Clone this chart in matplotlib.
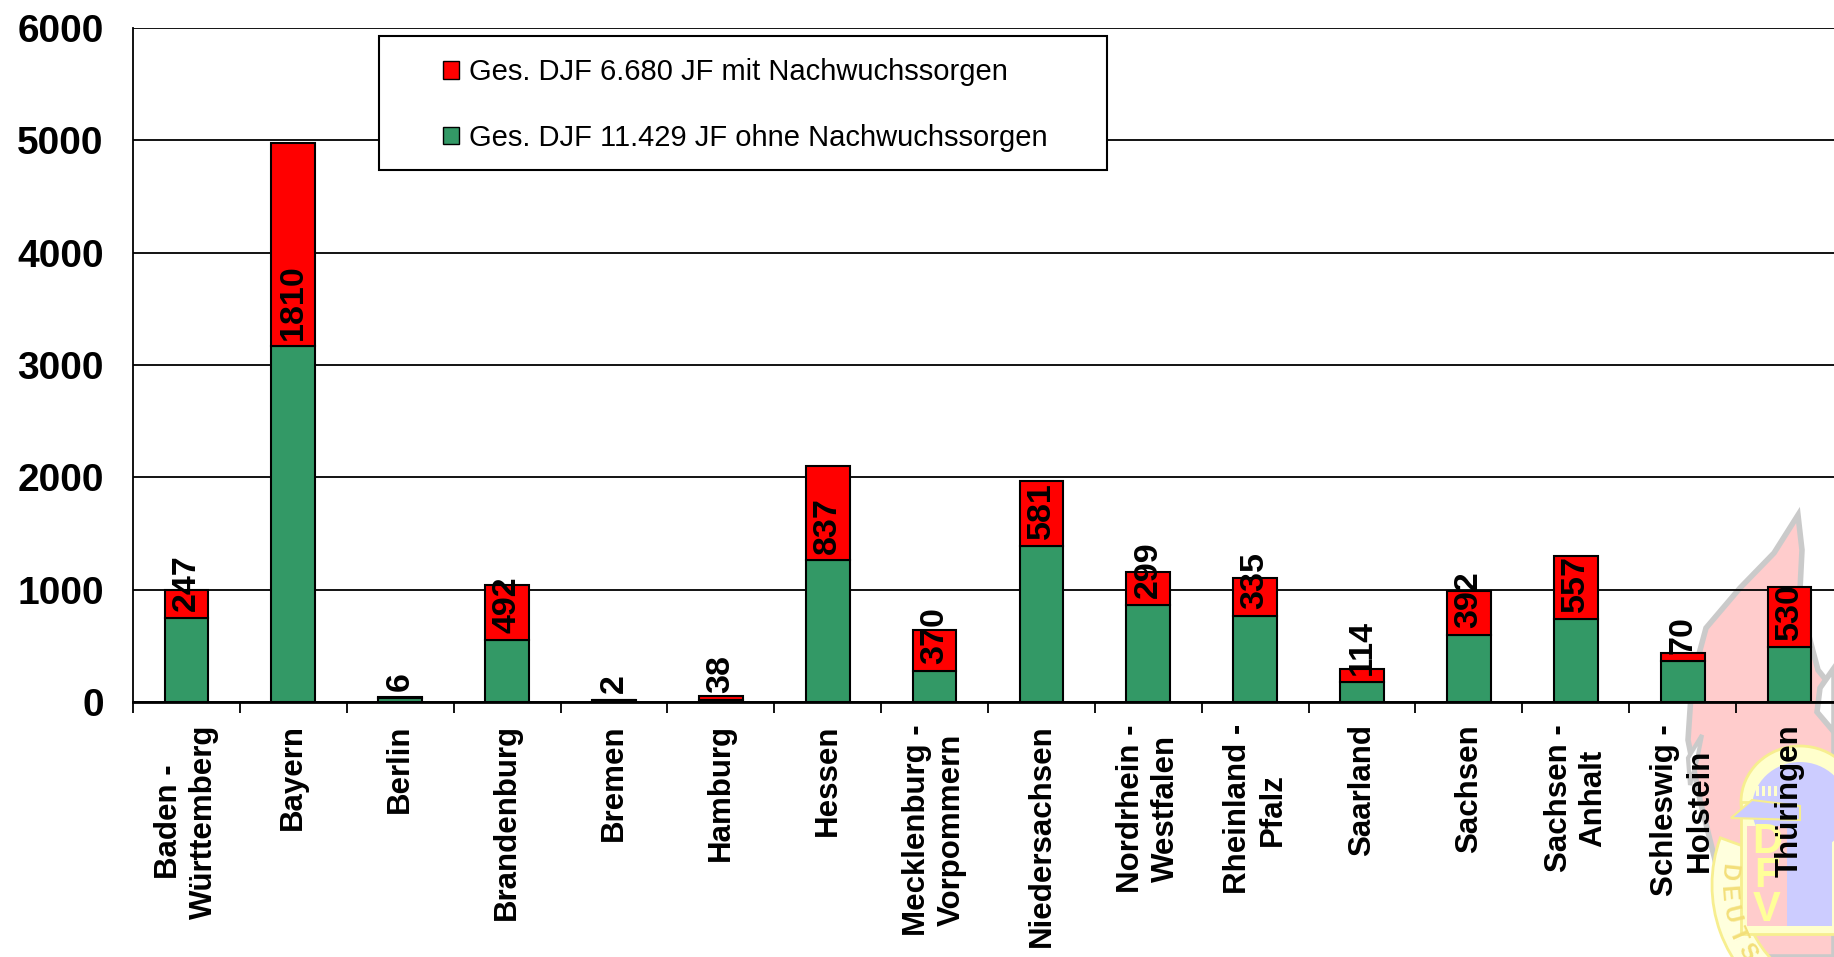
import matplotlib
matplotlib.use("Agg")
import matplotlib.pyplot as plt
import matplotlib.transforms as mtransforms
from matplotlib.patches import Patch, Rectangle, Polygon, Ellipse, Wedge
import numpy as np

plt.rcParams['font.family'] = ['Liberation Sans', 'DejaVu Sans']

# Jugendfeuerwehren je Landesverband
laender = ["Baden -\nWürttemberg", "Bayern", "Berlin", "Brandenburg", "Bremen",
           "Hamburg", "Hessen", "Mecklenburg -\nVorpommern", "Niedersachsen",
           "Nordrhein -\nWestfalen", "Rheinland -\nPfalz", "Saarland", "Sachsen",
           "Sachsen -\nAnhalt", "Schleswig -\nHolstein", "Thüringen"]
mit_sorgen = [247, 1810, 6, 492, 2, 38, 837, 370, 581, 299, 335, 114, 392, 557, 70, 530]
ohne_sorgen = [750, 3165, 35, 550, 18, 15, 1260, 275, 1385, 860, 770, 178, 595, 740, 365, 490]
y_ticks = [0, 1000, 2000, 3000, 4000, 5000, 6000]

lbl_mit = "Ges. DJF 6.680 JF mit Nachwuchssorgen"
lbl_ohne = "Ges. DJF 11.429 JF ohne Nachwuchssorgen"

ROT = "#ff0000"
GRUEN = "#339966"

W, H = 1834, 957
fig = plt.figure(figsize=(W / 100, H / 100), dpi=100)
# pixel coordinates, origin top left
px = mtransforms.Affine2D().scale(1 / W, -1 / H).translate(0, 1) + fig.transFigure

# --- faint DFV logo behind the chart
logo = dict(transform=px, zorder=-1)
ROSA, GELB, GELB_RAND, BLAU = "#ffcccc", "#ffffcc", "#f7ee8f", "#ccccff"

# flame
fig.add_artist(Polygon([(1798, 515), (1802, 550), (1800, 590), (1806, 625), (1818, 670),
                        (1834, 690), (1834, 957), (1735, 957), (1715, 860), (1700, 800),
                        (1688, 740), (1692, 680), (1706, 628), (1740, 588), (1774, 553)],
                       facecolor=ROSA, edgecolor="#cacaca", lw=4, **logo))
fig.add_artist(Polygon([(1834, 668), (1820, 688), (1817, 712), (1834, 732)],
                       facecolor="white", edgecolor="#cacaca", lw=4, **logo))
fig.add_artist(Polygon([(1702, 735), (1688, 758), (1690, 785), (1697, 760)],
                       facecolor="white", edgecolor="#cacaca", lw=3, **logo))

# ring with lettering
ring_c, ring_r = (1850, 885), 138
fig.add_artist(Wedge(ring_c, ring_r, 120, 200, width=30, facecolor="#ffffdd",
                     edgecolor=GELB_RAND, lw=2, **logo))
for ch, th in zip("DEUTS", [186, 176, 166, 156, 147]):
    t = np.deg2rad(th)
    r = ring_r - 15
    fig.text(ring_c[0] + r * np.cos(t), ring_c[1] + r * np.sin(t), ch, transform=px,
             rotation=90 - th, rotation_mode="anchor", ha="center", va="center",
             fontsize=17, fontweight="bold", color="#f3df7a", zorder=-1)

# shield with helmet
fig.add_artist(Ellipse((1800, 802), 118, 112, facecolor=GELB, edgecolor=GELB_RAND, lw=2, **logo))
fig.add_artist(Rectangle((1741, 802), 130, 132, facecolor=GELB, edgecolor=GELB_RAND, lw=2, **logo))
fig.add_artist(Ellipse((1800, 808), 96, 92, facecolor=BLAU, edgecolor="none", **logo))
fig.add_artist(Polygon([(1731, 818), (1752, 800), (1800, 806), (1800, 820)],
                       facecolor=BLAU, edgecolor=GELB_RAND, lw=1.5, **logo))
for i in range(4):
    fig.add_artist(Rectangle((1756 + 6 * i, 786), 3, 10, facecolor=GELB, edgecolor="none", **logo))
fig.add_artist(Rectangle((1747, 826), 40, 100, facecolor=ROSA, edgecolor="none", **logo))
fig.add_artist(Rectangle((1787, 826), 45, 100, facecolor=BLAU, edgecolor="none", **logo))
for i, ch in enumerate("DFV"):
    fig.text(1767, 842 + 34 * i, ch, transform=px, fontsize=30, fontweight="bold",
             color="#ffff99", ha="center", va="center", zorder=-1)

# --- chart
ax = fig.add_axes([133 / W, 1 - 702 / H, 1710 / W, 674 / H])
ax.patch.set_visible(False)

x = np.arange(len(laender))
ax.bar(x, ohne_sorgen, width=0.41, color=GRUEN, edgecolor="black", lw=1.5, zorder=3)
ax.bar(x, mit_sorgen, bottom=ohne_sorgen, width=0.41, color=ROT, edgecolor="black",
       lw=1.5, zorder=3)

# value of the red part, starting just above the green part
for xi, g, r in zip(x, ohne_sorgen, mit_sorgen):
    ax.annotate(str(r), (xi, g), xytext=(0, 5), textcoords="offset points",
                rotation=90, ha="center", va="bottom", fontsize=24.5,
                fontweight="bold", zorder=5)

ax.set_xlim(-0.5, len(laender) - 0.5)
ax.set_ylim(0, 6000)
ax.set_yticks(y_ticks)
ax.set_yticklabels([str(t) for t in y_ticks], fontsize=28, fontweight="bold")
ax.yaxis.grid(True, color="black", lw=1.3)
ax.set_axisbelow(True)

ax.set_xticks(x)
ax.set_xticklabels(laender, rotation=90, fontsize=22.5, fontweight="bold",
                   ha="center", va="top", multialignment="center")
ax.set_xticks(np.arange(-0.5, len(laender), 1), minor=True)
ax.tick_params(axis="x", which="major", length=0, pad=16)
ax.tick_params(axis="x", which="minor", length=8, width=1.3, color="black")
ax.tick_params(axis="y", length=0, pad=21)

ax.spines["top"].set_visible(False)
ax.spines["right"].set_visible(False)
ax.spines["left"].set_linewidth(1.3)
ax.spines["bottom"].set_linewidth(2)

# legend box
fig.add_artist(Rectangle((379, 36), 728, 134, transform=px, facecolor="white",
                         edgecolor="black", lw=1.5, zorder=1))
handles = [Patch(facecolor=ROT, edgecolor="black", lw=1),
           Patch(facecolor=GRUEN, edgecolor="black", lw=1)]
fig.legend(handles, [lbl_mit, lbl_ohne], loc="center left", bbox_to_anchor=(443, 105),
           bbox_transform=px, frameon=False, fontsize=21, handlelength=0.55,
           handleheight=0.55, handletextpad=0.35, labelspacing=1.3, borderpad=0,
           borderaxespad=0)

fig.savefig("out.png", dpi=100)
